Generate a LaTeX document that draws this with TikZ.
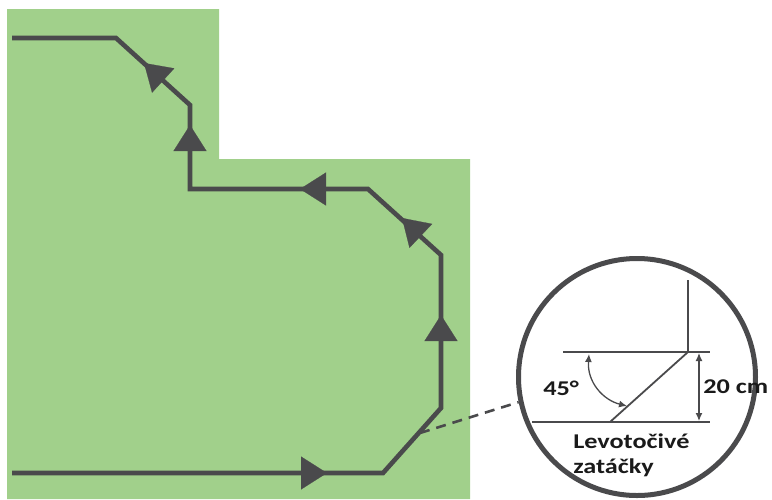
\documentclass[tikz,border=0pt]{standalone}
\usepackage{fontspec}
\setmainfont{Carlito}[BoldFont={Carlito Bold}]
\usetikzlibrary{arrows.meta,calc}
\definecolor{field}{HTML}{A1D08B}
\definecolor{track}{HTML}{4A4A4C}
\definecolor{ink}{HTML}{1A1A1A}
\tikzset{
  trackline/.style={draw=track,line width=4.6pt,line join=miter},
  tri/.style={draw=track,line width=0.2pt,-{Triangle[length=26pt,width=33pt,fill=track]}},
  thin/.style={draw=track,line width=1.8pt},
  dim/.style={draw=track,line width=1.3pt,{Latex[length=8pt,width=7pt]}-{Latex[length=8pt,width=7pt]}},
  lbl/.style={font=\bfseries\fontsize{21}{25}\selectfont,text=ink,inner sep=0pt,anchor=base west,xscale=1.25},
}
\begin{document}
\begin{tikzpicture}[x=1pt,y=-1pt]
\useasboundingbox (0,0) rectangle (772,499);
% green field
\fill[field] (7,9) -- (219,9) -- (219,159) -- (470,159) -- (470,499) -- (7,499) -- cycle;
% track points
\coordinate (p1) at (12,473);
\coordinate (p2) at (383,473);
\coordinate (p3) at (441,408);
\coordinate (p4) at (441,255);
\coordinate (p5) at (368,189);
\coordinate (p6) at (190,189);
\coordinate (p7) at (190,105);
\coordinate (p8) at (116,38);
\coordinate (p9) at (12,38);
\draw[trackline] (p1) -- (p2) -- (p3) -- (p4) -- (p5) -- (p6) -- (p7) -- (p8) -- (p9);
% direction arrows
\draw[tri] ($(p1)!0.75!(p2)$) -- (327,473);
\draw[tri] (p3) -- (441,315);
\draw[tri] (p4) -- (402,218);
\draw[tri] (p5) -- (300,189);
\draw[tri] (p6) -- (190,125);
\draw[tri] (p7) -- (144,63);
% zoom circle
\node[circle,draw=track,line width=5pt,minimum size=237pt,inner sep=0pt] (zoom) at (637,377) {};
\coordinate (dstart) at (420,433);
\draw[draw=track,line width=2.6pt,dash pattern=on 10pt off 7pt] (dstart) -- (zoom.192);
% detail
\coordinate (v1) at (688,280);
\coordinate (v2) at (688,352);
\coordinate (d2) at (610,422);
\draw[thin] (v1) -- (v2) -- (d2);
\draw[draw=track,line width=1.3pt] (563,352) -- (710,352);
\draw[draw=track,line width=1.6pt] (532,422) -- (710,422);
\coordinate (m1) at (699,353);
\coordinate (m2) at (699,421);
\draw[dim] (m1) -- (m2);
\coordinate (a1) at (589,354);
\coordinate (a2) at (627,406);
\draw[dim] (a1) .. controls (587,382) and (603,400) .. (a2);
\node[lbl] (deg) at (543,395) {45°};
\node[lbl] (cm) at (703,393) {20 cm};
\node[lbl] (t1) at (573,448) {Levotočivé};
\node[lbl] (t2) at (573,473) {zatáčky};
\end{tikzpicture}
\end{document}
